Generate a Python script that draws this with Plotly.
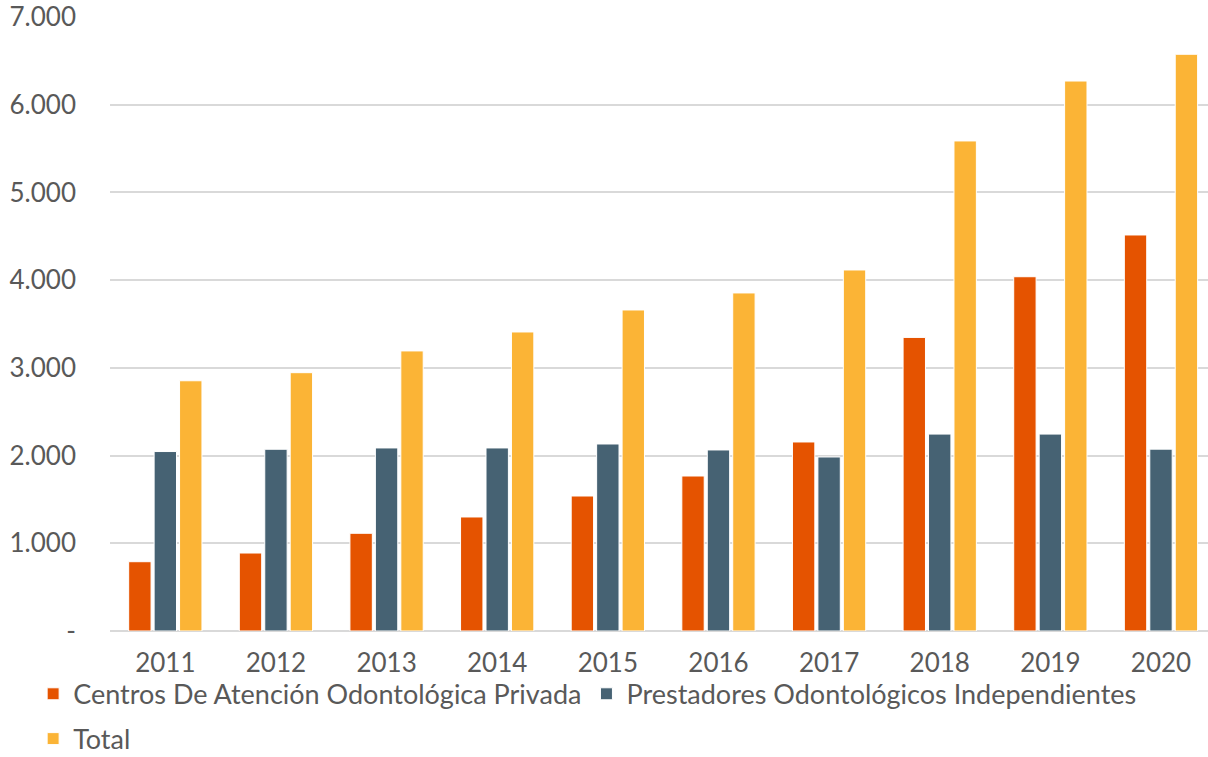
import plotly.graph_objects as go

years = ["2011", "2012", "2013", "2014", "2015", "2016", "2017", "2018", "2019", "2020"]
centros = [790, 889, 1114, 1300, 1539, 1767, 2155, 3347, 4039, 4515]
prestadores = [2046, 2072, 2087, 2087, 2132, 2064, 1984, 2245, 2245, 2073]
total = [2853, 2945, 3193, 3409, 3660, 3854, 4116, 5587, 6270, 6575]

y_tickvals = [0, 1000, 2000, 3000, 4000, 5000, 6000, 7000]
y_ticktext = ["-", "1.000", "2.000", "3.000", "4.000", "5.000", "6.000", "7.000"]

series_names = [
    "Centros De Atención Odontológica Privada",
    "Prestadores Odontológicos Independientes",
    "Total",
]
colors = ["#E55300", "#466273", "#FBB436"]

FONT = "Lato"
TEXT = "#595959"

fig = go.Figure()
for name, vals, col, leg in zip(series_names, [centros, prestadores, total], colors,
                                ["legend", "legend", "legend2"]):
    fig.add_trace(go.Bar(
        x=list(range(len(years))), y=vals, name=name,
        marker=dict(color=col, line=dict(color="white", width=1)),
        legend=leg,
    ))

fig.update_layout(
    width=1208, height=757,
    margin=dict(l=110, r=0, t=17, b=126, autoexpand=False),
    paper_bgcolor="white", plot_bgcolor="white",
    barmode="group", bargap=0.31, bargroupgap=0.12,
    font=dict(family=FONT, color=TEXT, size=26),
    xaxis=dict(
        range=[-0.5, 9.425], tickvals=list(range(len(years))), ticktext=years,
        showgrid=False, zeroline=False, showline=False, ticks="",
        ticklabelstandoff=14, tickfont=dict(size=26, color=TEXT),
    ),
    yaxis=dict(
        range=[0, 7000], tickvals=y_tickvals, ticktext=y_ticktext,
        showgrid=True, gridcolor="#D9D9D9", gridwidth=1.5,
        zeroline=True, zerolinecolor="#D9D9D9", zerolinewidth=1.5,
        showline=False, ticks="", ticklabelstandoff=33,
        tickfont=dict(size=26, color=TEXT),
    ),
    legend=dict(
        orientation="h", x=-0.07, xanchor="left", y=-0.103, yanchor="middle",
        font=dict(size=27, color=TEXT), bgcolor="rgba(0,0,0,0)",
        traceorder="normal",
    ),
    legend2=dict(
        orientation="h", x=-0.07, xanchor="left", y=-0.176, yanchor="middle",
        font=dict(size=27, color=TEXT), bgcolor="rgba(0,0,0,0)",
        entrywidth=160, entrywidthmode="pixels",
    ),
)

fig.write_html("out.html")
